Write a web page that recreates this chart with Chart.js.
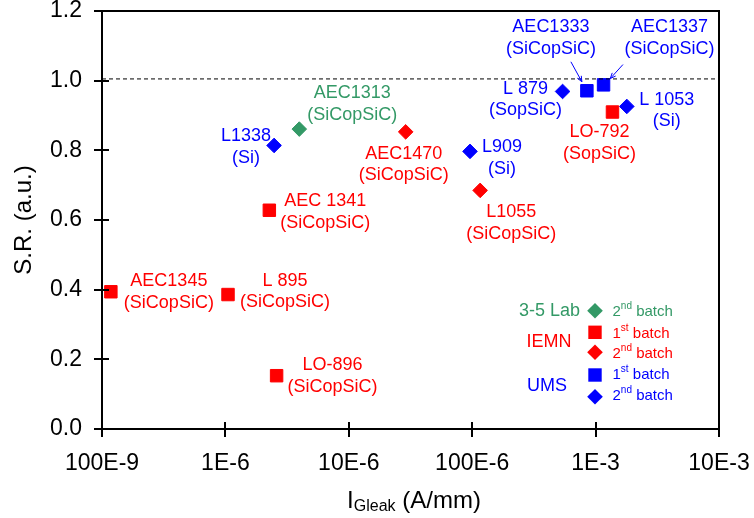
<!DOCTYPE html>
<html><head><meta charset="utf-8">
<script src="https://cdn.jsdelivr.net/npm/chart.js@4/dist/chart.umd.min.js"></script>
<style>html,body{margin:0;padding:0;background:#fff}#wrap{width:754px;height:518px}</style>
</head><body><div id="wrap"><canvas id="c" width="754" height="518"></canvas></div>
<script>
// ---------- data ----------
const xTickValues = [1e-7, 1e-6, 1e-5, 1e-4, 1e-3, 1e-2];
const xTickLabels = ["100E-9", "1E-6", "10E-6", "100E-6", "1E-3", "10E-3"];
const refLevel = 1.005;

const lab35b2X = [3.97e-6];
const lab35b2Y = [0.861];
const lab35b2Names = ["AEC1313"];
const lab35b2Subs = ["(SiCopSiC)"];

const iemnB1X = [1.18e-7, 1.05e-6, 2.27e-6, 2.6e-6, 1.37e-3];
const iemnB1Y = [0.394, 0.386, 0.628, 0.153, 0.910];
const iemnB1Names = ["AEC1345", "L 895", "AEC 1341", "LO-896", "LO-792"];
const iemnB1Subs = ["(SiCopSiC)", "(SiCopSiC)", "(SiCopSiC)", "(SiCopSiC)", "(SopSiC)"];

const iemnB2X = [2.89e-5, 1.16e-4];
const iemnB2Y = [0.853, 0.685];
const iemnB2Names = ["AEC1470", "L1055"];
const iemnB2Subs = ["(SiCopSiC)", "(SiCopSiC)"];

const umsB1X = [8.5e-4, 1.16e-3];
const umsB1Y = [0.971, 0.988];
const umsB1Names = ["AEC1333", "AEC1337"];
const umsB1Subs = ["(SiCopSiC)", "(SiCopSiC)"];

const umsB2X = [2.48e-6, 9.6e-5, 5.4e-4, 1.79e-3];
const umsB2Y = [0.814, 0.797, 0.969, 0.926];
const umsB2Names = ["L1338", "L909", "L 879", "L 1053"];
const umsB2Subs = ["(Si)", "(Si)", "(SopSiC)", "(Si)"];

// ---------- layout / style (not data) ----------
const GREEN = '#339966', RED = '#ff0000', BLUE = '#0000ff';
const FONT = '"Liberation Sans", Arial, Helvetica, sans-serif';
const labelOffsets = {
  "AEC1313": [53, -36], "AEC1345": [58, -10.6], "L 895": [57, -14], "AEC 1341": [56, -9],
  "LO-896": [56, -10.3], "LO-792": [-13, 20], "AEC1470": [-2, 21.7], "L1055": [31, 21.6],
  "AEC1333": [-36, -63.7], "AEC1337": [66, -58], "L1338": [-28, -9], "L909": [32, -4],
  "L 879": [-37, -2.7], "L 1053": [40, -6.7]
};
const labelArrows = { "AEC1333": [-16, -29, -5, -9], "AEC1337": [19.4, -20.3, 6.7, -6.3] };
const lineGap = 21.7;

function pts(xs, ys) { return xs.map((x, i) => ({ x: x, y: ys[i] })); }
function ds(label, xs, ys, names, subs, color, shape) {
  return {
    label: label, data: pts(xs, ys), names: names, subs: subs, textColor: color,
    backgroundColor: color, borderColor: color, borderWidth: 1,
    pointStyle: shape, pointRadius: shape === 'rect' ? 8.8 : 7.3, pointHoverRadius: shape === 'rect' ? 8.8 : 7.3,
    showLine: false, clip: false
  };
}

const pointLabelPlugin = {
  id: 'pointLabels',
  afterDatasetsDraw(chart) {
    const ctx = chart.ctx;
    chart.data.datasets.forEach((d, i) => {
      if (!d.names) return;
      const meta = chart.getDatasetMeta(i);
      meta.data.forEach((el, j) => {
        const name = d.names[j], sub = d.subs[j];
        const off = labelOffsets[name] || [0, -20];
        ctx.save();
        ctx.fillStyle = d.textColor; ctx.strokeStyle = d.textColor;
        ctx.font = '18px ' + FONT; ctx.textAlign = 'center'; ctx.textBaseline = 'middle';
        ctx.fillText(name, el.x + off[0], el.y + off[1]);
        ctx.fillText(sub, el.x + off[0], el.y + off[1] + lineGap);
        const ar = labelArrows[name];
        if (ar) {
          const x0 = el.x + ar[0], y0 = el.y + ar[1], x1 = el.x + ar[2], y1 = el.y + ar[3];
          ctx.lineWidth = 1;
          ctx.beginPath(); ctx.moveTo(x0, y0); ctx.lineTo(x1, y1); ctx.stroke();
          const ang = Math.atan2(y1 - y0, x1 - x0), L = 6, w = 0.4;
          ctx.beginPath(); ctx.moveTo(x1, y1);
          ctx.lineTo(x1 - L * Math.cos(ang - w), y1 - L * Math.sin(ang - w));
          ctx.moveTo(x1, y1);
          ctx.lineTo(x1 - L * Math.cos(ang + w), y1 - L * Math.sin(ang + w));
          ctx.stroke();
        }
        ctx.restore();
      });
    });
  }
};

function drawMarker(ctx, shape, x, y, color) {
  ctx.save(); ctx.fillStyle = color; ctx.beginPath();
  if (shape === 'rect') { const h = 6.7; ctx.rect(x - h, y - h, 2 * h, 2 * h); }
  else { const r = 7.8; ctx.moveTo(x - r, y); ctx.lineTo(x, y - r); ctx.lineTo(x + r, y); ctx.lineTo(x, y + r); ctx.closePath(); }
  ctx.fill(); ctx.restore();
}
function drawBatch(ctx, x, y, num, sup, color) {
  ctx.save(); ctx.fillStyle = color; ctx.textAlign = 'left'; ctx.textBaseline = 'alphabetic';
  ctx.font = '15px ' + FONT; ctx.fillText(num, x, y);
  let cx = x + ctx.measureText(num).width;
  ctx.font = '10px ' + FONT; ctx.fillText(sup, cx, y - 7);
  cx += ctx.measureText(sup).width;
  ctx.font = '15px ' + FONT; ctx.fillText(' batch', cx, y);
  ctx.restore();
}

const framePlugin = {
  id: 'frame',
  afterDraw(chart) {
    const { ctx, chartArea: a, scales } = chart;
    const xs = scales.x, ys = scales.y;
    ctx.save();
    ctx.strokeStyle = '#000'; ctx.lineWidth = 2;
    ctx.beginPath();
    ctx.moveTo(a.left, a.top); ctx.lineTo(a.right, a.top); ctx.lineTo(a.right, a.bottom);
    xs.ticks.forEach(t => { const p = Math.round(xs.getPixelForValue(t.value)); ctx.moveTo(p, a.bottom); ctx.lineTo(p, a.bottom - 7); });
    ys.ticks.forEach(t => { const p = Math.round(ys.getPixelForValue(t.value)); ctx.moveTo(a.left, p); ctx.lineTo(a.left + 7, p); });
    ctx.stroke();

    // x axis title with subscript
    const cxm = (a.left + a.right) / 2 + 3.5, base = 508;
    ctx.fillStyle = '#000'; ctx.textAlign = 'left'; ctx.textBaseline = 'alphabetic';
    ctx.font = '24px ' + FONT; const wI = ctx.measureText('I').width, wR = ctx.measureText(' (A/mm)').width;
    ctx.font = '16px ' + FONT; const wG = ctx.measureText('Gleak').width;
    let sx = cxm - (wI + wG + wR) / 2;
    ctx.font = '24px ' + FONT; ctx.fillText('I', sx, base); sx += wI;
    ctx.font = '16px ' + FONT; ctx.fillText('Gleak', sx, base + 3); sx += wG;
    ctx.font = '24px ' + FONT; ctx.fillText(' (A/mm)', sx, base);

    // legend (lower right)
    const mx = a.right - 124, tx = a.right - 106.5, b = a.bottom;
    ctx.font = '18px ' + FONT; ctx.textBaseline = 'middle';
    ctx.fillStyle = GREEN; ctx.textAlign = 'right'; ctx.fillText('3-5 Lab', a.right - 139, b - 118.3);
    ctx.fillStyle = RED; ctx.textAlign = 'center'; ctx.fillText('IEMN', a.right - 170, b - 87.3);
    ctx.fillStyle = BLUE; ctx.fillText('UMS', a.right - 172, b - 43.3);
    drawMarker(ctx, 'diamond', mx, b - 118.3, GREEN);
    drawMarker(ctx, 'rect', mx, b - 96.7, RED);
    drawMarker(ctx, 'diamond', mx, b - 76.7, RED);
    drawMarker(ctx, 'rect', mx, b - 54, BLUE);
    drawMarker(ctx, 'diamond', mx, b - 32.3, BLUE);
    drawBatch(ctx, tx, b - 113, '2', 'nd', GREEN);
    drawBatch(ctx, tx, b - 91.5, '1', 'st', RED);
    drawBatch(ctx, tx, b - 71.5, '2', 'nd', RED);
    drawBatch(ctx, tx, b - 50.5, '1', 'st', BLUE);
    drawBatch(ctx, tx, b - 29, '2', 'nd', BLUE);
    ctx.restore();
  }
};

const chart = new Chart(document.getElementById('c'), {
  type: 'scatter',
  data: {
    datasets: [
      { type: 'line', label: 'ref', data: [{ x: xTickValues[0], y: refLevel }, { x: xTickValues[xTickValues.length - 1], y: refLevel }],
        borderColor: '#000', borderWidth: 1, borderDash: [4, 3], pointRadius: 0, pointHoverRadius: 0, fill: false },
      ds('3-5 Lab 2nd batch', lab35b2X, lab35b2Y, lab35b2Names, lab35b2Subs, GREEN, 'rectRot'),
      ds('IEMN 1st batch', iemnB1X, iemnB1Y, iemnB1Names, iemnB1Subs, RED, 'rect'),
      ds('IEMN 2nd batch', iemnB2X, iemnB2Y, iemnB2Names, iemnB2Subs, RED, 'rectRot'),
      ds('UMS 1st batch', umsB1X, umsB1Y, umsB1Names, umsB1Subs, BLUE, 'rect'),
      ds('UMS 2nd batch', umsB2X, umsB2Y, umsB2Names, umsB2Subs, BLUE, 'rectRot')
    ]
  },
  options: {
    responsive: false, animation: false, devicePixelRatio: 1,
    layout: { padding: { left: 0, top: 11, right: 35, bottom: 0 } },
    plugins: { legend: { display: false }, tooltip: { enabled: false } },
    scales: {
      x: {
        type: 'logarithmic', min: xTickValues[0], max: xTickValues[xTickValues.length - 1],
        afterBuildTicks: s => { s.ticks = xTickValues.map(v => ({ value: v })); },
        afterFit: s => { s.height = 89; s.paddingLeft = 0; s.paddingRight = 0; },
        grid: { drawOnChartArea: false, drawTicks: true, tickLength: 8, color: '#000', lineWidth: 2 },
        border: { display: true, color: '#000', width: 2 },
        ticks: {
          autoSkip: false, maxRotation: 0, color: '#000', padding: 13, font: { family: FONT, size: 23 },
          callback: (v) => { const i = xTickValues.findIndex(t => Math.abs(Math.log10(t) - Math.log10(v)) < 1e-6); return i >= 0 ? xTickLabels[i] : ''; }
        }
      },
      y: {
        min: 0, max: 1.2,
        afterFit: s => { s.width = 102; s.paddingTop = 0; s.paddingBottom = 0; },
        grid: { drawOnChartArea: false, drawTicks: true, tickLength: 8, color: '#000', lineWidth: 2 },
        border: { display: true, color: '#000', width: 2 },
        ticks: { stepSize: 0.2, color: '#000', padding: 12, font: { family: FONT, size: 23 }, callback: v => Number(v).toFixed(1) },
        title: { display: true, text: 'S.R. (a.u.)', color: '#000', font: { family: FONT, size: 24 }, padding: { top: 10, bottom: 0 } }
      }
    }
  },
  plugins: [pointLabelPlugin, framePlugin]
});
</script></body></html>
